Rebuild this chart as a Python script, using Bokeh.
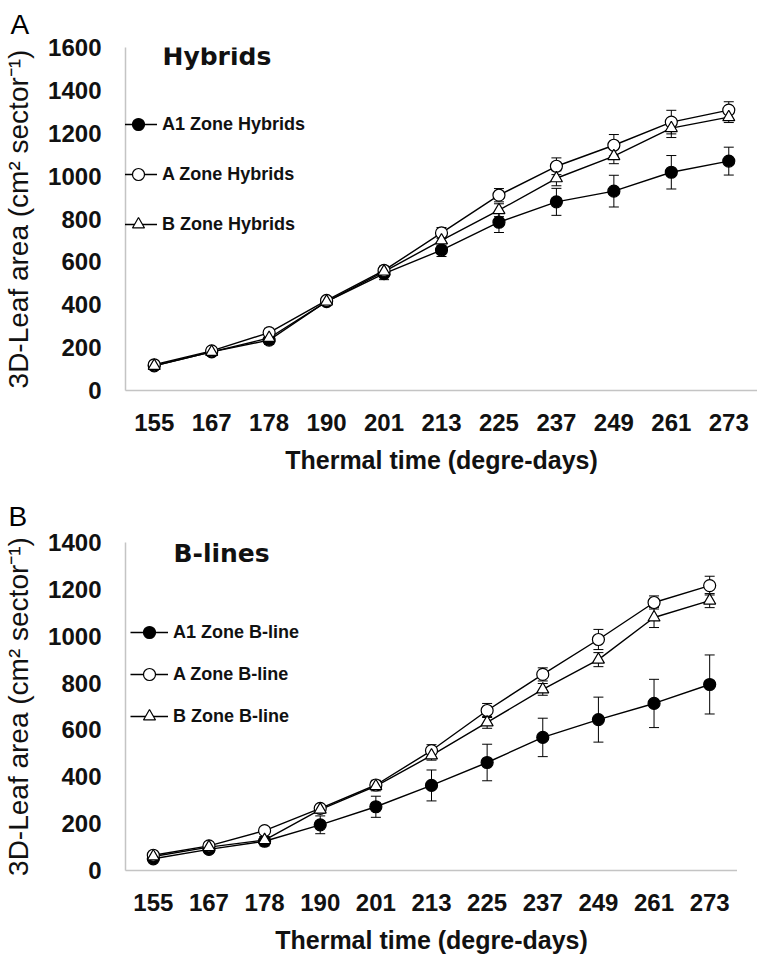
from bokeh.plotting import figure
from bokeh.models import (ColumnDataSource, FactorRange, Range1d, FixedTicker, Legend, LegendItem,
                          Whisker, TeeHead, Label)
from bokeh.layouts import column
from bokeh.embed import file_html
from bokeh.resources import INLINE

# ---------------- data ----------------
thermal_time = ["155", "167", "178", "190", "201", "213", "225", "237", "249", "261", "273"]

# Panel A: Hybrids
hyb_A1 = [115, 180, 235, 415, 545, 655, 785, 880, 930, 1018, 1070]
hyb_A = [120, 185, 270, 420, 560, 735, 911, 1046, 1144, 1252, 1308]
hyb_B = [115, 180, 245, 415, 555, 700, 841, 990, 1093, 1224, 1275]
hyb_A1_err = [10, 15, 20, 15, 28, 30, 48, 63, 74, 78, 65]
hyb_A_err = [10, 15, 20, 15, 20, 25, 31, 39, 50, 55, 39]
hyb_B_err = [10, 15, 15, 15, 20, 25, 30, 35, 35, 44, 25]
hyb_yticks = [0, 200, 400, 600, 800, 1000, 1200, 1400, 1600]
hyb_labels = ["A1 Zone Hybrids", "A Zone Hybrids", "B Zone Hybrids"]

# Panel B: B-lines
bl_A1 = [50, 90, 125, 195, 272, 363, 461, 568, 644, 713, 794]
bl_A = [65, 105, 170, 265, 365, 512, 683, 837, 986, 1144, 1216]
bl_B = [60, 100, 130, 260, 360, 491, 632, 773, 900, 1080, 1152]
bl_A1_err = [10, 15, 20, 38, 45, 66, 78, 82, 96, 103, 126]
bl_A_err = [10, 15, 15, 15, 20, 25, 30, 28, 43, 28, 40]
bl_B_err = [10, 10, 15, 15, 20, 20, 25, 25, 30, 43, 30]
bl_yticks = [0, 200, 400, 600, 800, 1000, 1200, 1400]
bl_labels = ["A1 Zone B-line", "A Zone B-line", "B Zone B-line"]

AX_FONT = "Liberation Sans"
AXIS_GRAY = "#c4c4c4"


def make_panel(series, errs, labels, yticks, ymax, fw, fh, mb_left, mb_top, mb_bottom,
               title_text, title_xy, legend_xy, legend_spacing,
               letter, letter_offset, letter_valign, letter_standoff):
    p = figure(x_range=FactorRange(*thermal_time), y_range=Range1d(0, ymax),
               frame_width=fw, frame_height=fh, min_border_left=mb_left, min_border_top=mb_top,
               min_border_bottom=mb_bottom, min_border_right=0,
               output_backend="svg", toolbar_location=None)
    p.outline_line_color = None
    p.xgrid.visible = False
    p.ygrid.visible = False
    p.background_fill_color = "white"

    # panel letter as the figure title, pushed to the left page edge
    p.title.text = letter
    p.title.align = "left"
    p.title.offset = letter_offset
    p.title.vertical_align = letter_valign
    p.title.standoff = letter_standoff
    p.title.text_font = AX_FONT
    p.title.text_font_size = "28px"
    p.title.text_font_style = "normal"
    p.title.text_color = "black"

    styles = [
        dict(marker="circle", fill_color="black"),
        dict(marker="circle", fill_color="white"),
        dict(marker="triangle", fill_color="white"),
    ]

    sources = []
    for vals, err in zip(series, errs):
        src = ColumnDataSource(dict(
            x=thermal_time, y=vals,
            upper=[v + e for v, e in zip(vals, err)],
            lower=[v - e for v, e in zip(vals, err)],
        ))
        sources.append(src)
        w = Whisker(base="x", upper="upper", lower="lower", source=src, level="underlay",
                    line_color="black", line_width=1,
                    upper_head=TeeHead(size=10, line_color="black", line_width=1),
                    lower_head=TeeHead(size=10, line_color="black", line_width=1))
        p.add_layout(w)

    line_rs = []
    for src in sources:
        line_rs.append(p.line("x", "y", source=src, line_color="black", line_width=1.4))
    mark_rs = []
    for src, st in zip(sources, styles):
        mark_rs.append(p.scatter("x", "y", source=src, size=12, marker=st["marker"],
                                 fill_color=st["fill_color"], line_color="black", line_width=1.2))

    items = [LegendItem(label=lab, renderers=[lr, mr]) for lab, lr, mr in zip(labels, line_rs, mark_rs)]
    legend = Legend(items=items, location=legend_xy, padding=0, margin=0,
                    border_line_color=None, background_fill_alpha=0,
                    glyph_width=38, glyph_height=30, label_height=30, label_standoff=5,
                    spacing=legend_spacing,
                    label_text_font=AX_FONT, label_text_font_style="bold",
                    label_text_font_size="18px", label_text_color="#111111")
    p.add_layout(legend)

    for ax in (p.xaxis[0], p.yaxis[0]):
        ax.axis_line_color = AXIS_GRAY
        ax.axis_line_width = 1.5
        ax.major_tick_out = 0
        ax.major_tick_in = 0
        ax.major_label_text_font = AX_FONT
        ax.major_label_text_font_style = "bold"
        ax.major_label_text_font_size = "24px"
        ax.major_label_text_color = "#111111"
        ax.axis_label_text_font = AX_FONT
        ax.axis_label_text_color = "#111111"
    p.yaxis[0].minor_tick_out = 0
    p.yaxis[0].minor_tick_in = 0
    p.yaxis[0].ticker = FixedTicker(ticks=yticks)
    p.yaxis[0].major_label_standoff = 24
    p.yaxis[0].axis_label = "3D-Leaf area (cm\u00b2 sector\u207b\u00b9)"
    p.yaxis[0].axis_label_text_font_size = "28px"
    p.yaxis[0].axis_label_text_font_style = "normal"
    p.yaxis[0].axis_label_standoff = 11
    p.xaxis[0].major_label_standoff = 23
    p.xaxis[0].axis_label = "Thermal time (degre-days)"
    p.xaxis[0].axis_label_text_font_size = "25px"
    p.xaxis[0].axis_label_text_font_style = "bold"
    p.xaxis[0].axis_label_standoff = 12

    p.add_layout(Label(x=title_xy[0], y=title_xy[1], x_units="screen", y_units="screen",
                       text=title_text, text_font="DejaVu Sans", text_font_style="bold",
                       text_font_size="25px", text_color="#111111", text_baseline="alphabetic"))
    return p


p1 = make_panel([hyb_A1, hyb_A, hyb_B], [hyb_A1_err, hyb_A_err, hyb_B_err], hyb_labels,
                hyb_yticks, 1600, 632, 343, 115, 47, 87,
                "Hybrids", (37, 334), (-6, 151), 20,
                "A", -115, "top", 11)
p2 = make_panel([bl_A1, bl_A, bl_B], [bl_A1_err, bl_A_err, bl_B_err], bl_labels,
                bl_yticks, 1400, 612, 328, 117, 65, 76,
                "B-lines", (48, 317), (5, 139), 12,
                "B", -117, "bottom", 22)

layout = column(p1, p2, spacing=0)
open("out.html", "w").write(file_html(layout, INLINE))
